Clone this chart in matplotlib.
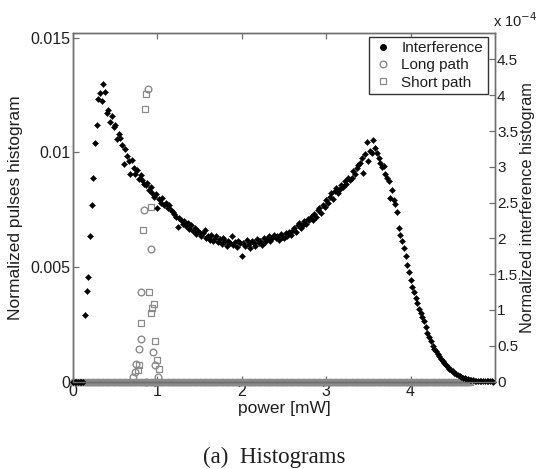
import numpy as np
import matplotlib
matplotlib.use("Agg")
import matplotlib.pyplot as plt
from matplotlib.lines import Line2D

plt.rcParams['font.family'] = ['Liberation Sans', 'DejaVu Sans']

# ---------------- data ----------------
# interference histogram bins (mW), step 0.02
interf_x = np.round(np.arange(0.0, 5.0, 0.02), 2)
# interference histogram values in units of 1e-4 (right axis)
interf_e4 = [
    0, 0, 0, 0, 0, 0, 0, 0.93, 1.26, 1.46,
    2.03, 2.46, 2.85, 3.33, 3.58, 3.95, 4.03, 3.92, 4.16, 4.05,
    3.75, 3.80, 3.62, 3.71, 3.55, 3.58, 3.39, 3.46, 3.40, 3.30,
    3.04, 3.25, 3.15, 3.08, 2.90, 3.10, 2.99, 2.90, 2.95, 2.83,
    2.88, 2.81, 2.76, 2.74, 2.78, 2.68, 2.72, 2.64, 2.58, 2.62,
    2.43, 2.55, 2.50, 2.57, 2.47, 2.50, 2.43, 2.46, 2.40, 2.37,
    2.34, 2.30, 2.16, 2.28, 2.25, 2.20, 2.24, 2.17, 2.21, 2.13,
    2.18, 2.10, 2.14, 2.06, 2.11, 2.08, 2.03, 2.07, 2.12, 2.00,
    2.04, 1.98, 2.05, 1.96, 2.01, 2.03, 1.95, 1.99, 1.92, 2.00,
    1.96, 1.90, 1.97, 1.93, 2.04, 1.91, 1.95, 1.88, 1.97, 1.93,
    1.76, 1.94, 1.90, 1.98, 1.92, 1.87, 1.96, 1.93, 1.89, 1.99,
    1.94, 1.97, 1.91, 2.01, 1.95, 1.99, 2.03, 1.96, 2.00, 2.05,
    2.00, 2.04, 1.98, 2.06, 2.02, 2.01, 2.07, 2.03, 2.09, 2.05,
    2.11, 2.15, 2.09, 2.18, 2.21, 2.14, 2.19, 2.24, 2.20, 2.27,
    2.25, 2.30, 2.26, 2.34, 2.30, 2.39, 2.42, 2.36, 2.46, 2.44,
    2.53, 2.49, 2.58, 2.63, 2.55, 2.66, 2.71, 2.64, 2.69, 2.75,
    2.72, 2.80, 2.76, 2.85, 2.82, 2.85, 2.94, 2.90, 2.98, 3.02,
    3.06, 3.12, 2.92, 3.18, 3.34, 3.08, 3.22, 3.20, 3.38, 3.26,
    3.20, 3.12, 3.06, 3.00, 3.01, 2.90, 2.85, 2.80, 2.56, 2.67,
    2.53, 2.48, 2.37, 2.14, 2.05, 1.97, 1.86, 1.76, 1.63, 1.53,
    1.42, 1.32, 1.25, 1.17, 1.10, 1.02, 0.96, 0.90, 0.84, 0.76,
    0.68, 0.62, 0.56, 0.50, 0.46, 0.42, 0.39, 0.35, 0.32, 0.29,
    0.26, 0.23, 0.20, 0.18, 0.16, 0.14, 0.12, 0.10, 0.085, 0.07,
    0.06, 0.05, 0.042, 0.035, 0.03, 0.025, 0.02, 0.016, 0.012, 0.009,
    0.007, 0.005, 0.004, 0.003, 0.002, 0.0015, 0.001, 0.0006, 0.0003, 0.0,
]

# pulse histograms (left axis): non-zero bins
long_path_x = [0.71, 0.73, 0.75, 0.78, 0.80, 0.81, 0.84, 0.86, 0.89, 0.92, 0.95, 0.97, 1.01]
long_path_y = [0.0002, 0.0004, 0.00077, 0.0014, 0.00185, 0.0039, 0.0075, 0.0,
               0.01275, 0.0058, 0.0013, 0.00074, 0.0002]
short_path_x = [0.77, 0.78, 0.80, 0.83, 0.85, 0.87, 0.90, 0.92, 0.93, 0.94, 0.96, 0.97, 1.00, 1.02]
short_path_y = [0.00048, 0.0007, 0.00256, 0.00662, 0.0119, 0.01253, 0.0039, 0.0030,
                0.0076, 0.0032, 0.0034, 0.00176, 0.00092, 0.00055]
# empty bins of the pulse histograms (value 0)
pulse_zero_x = np.round(np.arange(0.0, 4.72, 0.02), 2)
pulse_zero_y = np.zeros(len(pulse_zero_x))

left_ticks = [0, 0.005, 0.01, 0.015]
left_tick_labels = ['0', '0.005', '0.01', '0.015']
right_ticks = [0, 0.5, 1, 1.5, 2, 2.5, 3, 3.5, 4, 4.5]
right_tick_labels = ['0', '0.5', '1', '1.5', '2', '2.5', '3', '3.5', '4', '4.5']
x_ticks = [0, 1, 2, 3, 4]

# ---------------- figure ----------------
W, H = 536, 469
fig = plt.figure(figsize=(W / 100, H / 100), dpi=100)
ax = fig.add_axes([73 / W, 1 - 381.5 / H, (495 - 73) / W, (381.5 - 33) / H])
ax2 = ax.twinx()

spine_c = '#6e6e6e'
text_c = '#1e1e1e'
gray = '#8a8a8a'

# pulses (left axis)
ax.plot(pulse_zero_x, pulse_zero_y, linestyle='none', marker='o', ms=4.5,
        mfc='none', mec=gray, mew=0.9, clip_on=False)
ax.plot(pulse_zero_x, pulse_zero_y, linestyle='none', marker='s', ms=3.6,
        mfc='none', mec=gray, mew=0.9, clip_on=False)
ax.plot(long_path_x, long_path_y, linestyle='none', marker='o', ms=4.8,
        mfc='none', mec=gray, mew=1.0, clip_on=False)
ax.plot(short_path_x, short_path_y, linestyle='none', marker='s', ms=3.8,
        mfc='none', mec=gray, mew=0.9, clip_on=False)

# interference (right axis)
ax2.plot(interf_x, interf_e4, linestyle='none', marker='D', ms=3.1,
         mfc='black', mec='black', mew=0.3, clip_on=False)

ax.set_xlim(0, 5)
ax.set_ylim(0, 0.0152)
ax2.set_ylim(0, 4.87)

ax.set_xticks(x_ticks)
ax.set_xticklabels([str(t) for t in x_ticks])
ax.set_yticks(left_ticks)
ax.set_yticklabels(left_tick_labels)
ax2.set_yticks(right_ticks)
ax2.set_yticklabels(right_tick_labels)

for a in (ax, ax2):
    for s in a.spines.values():
        s.set_color(spine_c)
        s.set_linewidth(1.0)
ax.tick_params(axis='both', direction='in', length=4, width=0.9, color=spine_c,
               labelsize=11.5, labelcolor=text_c, pad=2, top=True, right=False)
ax2.tick_params(axis='y', direction='in', length=4, width=0.9, color=spine_c,
                labelsize=11, labelcolor=text_c, pad=1.5)

ax.set_xlabel('power [mW]', fontsize=12.5, color=text_c, labelpad=1)
ax.set_ylabel('Normalized pulses histogram', fontsize=12.5, color=text_c, labelpad=5)
ax2.set_ylabel('Normalized interference histogram', fontsize=11.8, color=text_c,
               rotation=90, labelpad=1)

fig.text(493 / W, 1 - 27 / H, r'x 10$^{-4}$', fontsize=10.5, color=text_c,
         ha='left', va='baseline')

handles = [
    Line2D([], [], linestyle='none', marker='o', ms=4, mfc='black', mec='black'),
    Line2D([], [], linestyle='none', marker='o', ms=4.8, mfc='none', mec=gray, mew=1.0),
    Line2D([], [], linestyle='none', marker='s', ms=3.8, mfc='none', mec=gray, mew=0.9),
]
leg = ax2.legend(handles, ['Interference', 'Long path', 'Short path'],
                 loc='upper right', bbox_to_anchor=(0.983, 0.989), borderaxespad=0,
                 fontsize=11, frameon=True, fancybox=False, framealpha=1,
                 edgecolor='#333333', handlelength=1.2, handletextpad=0.6,
                 labelspacing=0.2, borderpad=0.3)
leg.get_frame().set_linewidth(1.0)
for t in leg.get_texts():
    t.set_color(text_c)

fig.text(274 / W, 1 - 463 / H, '(a)  Histograms', fontsize=16.5, color=text_c,
         family=['Liberation Serif', 'DejaVu Serif'], ha='center', va='baseline')

fig.savefig('out.png', dpi=100)
